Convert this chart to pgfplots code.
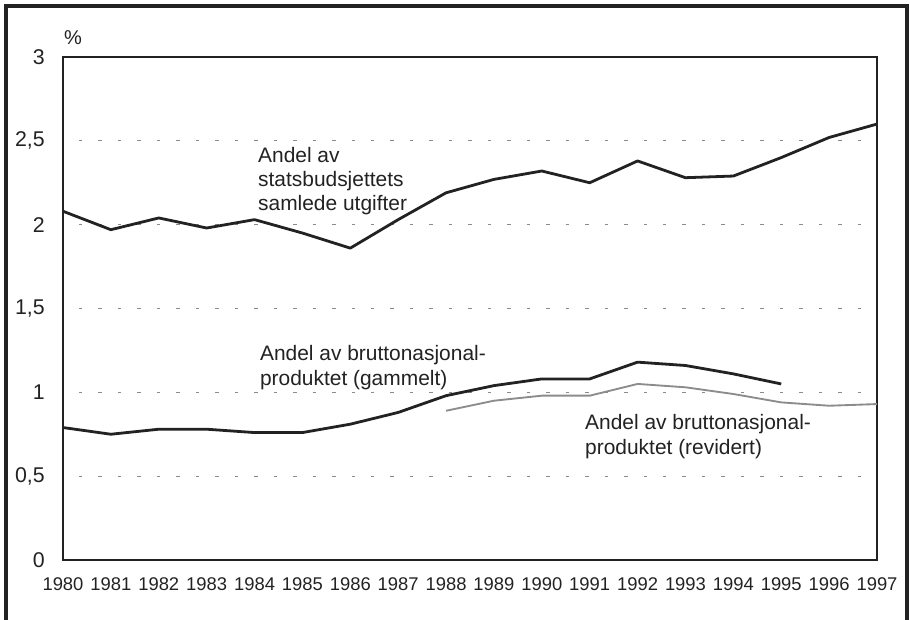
\documentclass[border=0pt]{standalone}
\usepackage{pgfplots}
\pgfplotsset{compat=1.18}
\usepackage{fontspec}
\setmainfont{Liberation Sans}
\definecolor{ink}{HTML}{222222}
\definecolor{revgray}{HTML}{8C8C8C}
\definecolor{gridgray}{HTML}{8A8A8A}
\begin{document}
\begin{tikzpicture}[x=1pt,y=1pt]
\useasboundingbox (0,0) rectangle (682.5,465);
% outer frame (bottom edge lies outside the picture)
\draw[line width=2.4pt,color=ink] (4.5,-5) -- (4.5,460.5) -- (680.25,460.5) -- (680.25,-5);
\begin{axis}[
  at={(47.25pt,45pt)}, anchor=origin,
  scale only axis, width=610.5pt, height=377.25pt,
  xmin=1980, xmax=1997, ymin=0, ymax=3,
  clip=false,
  axis line style={line width=1pt, color=ink},
  xtick={1980,1981,...,1997},
  xticklabels={1980,1981,1982,1983,1984,1985,1986,1987,1988,1989,1990,1991,1992,1993,1994,1995,1996,1997},
  ytick={0,0.5,1,1.5,2,2.5,3},
  yticklabels={0,{0,5},1,{1,5},2,{2,5},3},
  major tick length=0pt,
  xticklabel style={font=\fontsize{13.8}{15}\selectfont, color=ink, anchor=north, inner sep=0pt, yshift=-13pt},
  yticklabel style={font=\fontsize{16}{17}\selectfont, color=ink, anchor=east, inner sep=0pt, xshift=-13.5pt},
  ymajorgrids=true,
  grid style={color=gridgray, line width=0.8pt, dash pattern=on 2.6pt off 12pt, dash phase=-12pt},
]
\addplot[color=ink, line width=2.1pt, line join=round] coordinates {
(1980,2.08) (1981,1.97) (1982,2.04) (1983,1.98) (1984,2.03) (1985,1.95)
(1986,1.86) (1987,2.03) (1988,2.19) (1989,2.27) (1990,2.32) (1991,2.25)
(1992,2.38) (1993,2.28) (1994,2.29) (1995,2.40) (1996,2.52) (1997,2.60)};
\addplot[color=revgray, line width=1.4pt, line join=round] coordinates {
(1988,0.89) (1989,0.95) (1990,0.98) (1991,0.98) (1992,1.05) (1993,1.03)
(1994,0.99) (1995,0.94) (1996,0.92) (1997,0.93)};
\addplot[color=ink, line width=2.1pt, line join=round] coordinates {
(1980,0.79) (1981,0.75) (1982,0.78) (1983,0.78) (1984,0.76) (1985,0.76)
(1986,0.81) (1987,0.88) (1988,0.98) (1989,1.04) (1990,1.08) (1991,1.08)
(1992,1.18) (1993,1.16) (1994,1.11) (1995,1.05)};
\node[anchor=north west, inner sep=0pt, align=left, font=\fontsize{15.7}{18}\selectfont, color=ink]
  at (axis cs:1984.07,2.463) {Andel av\\statsbudsjettets\\samlede utgifter};
\node[anchor=north west, inner sep=0pt, align=left, font=\fontsize{15.7}{19}\selectfont, color=ink]
  at (axis cs:1984.11,1.282) {Andel av bruttonasjonal-\\produktet (gammelt)};
\node[anchor=north west, inner sep=0pt, align=left, font=\fontsize{15.7}{19}\selectfont, color=ink]
  at (axis cs:1990.90,0.871) {Andel av bruttonasjonal-\\produktet (revidert)};
\node[inner sep=0pt, font=\fontsize{15}{16}\selectfont, color=ink]
  at (axis cs:1980.21,3.113) {\%};
\end{axis}
\end{tikzpicture}
\end{document}
